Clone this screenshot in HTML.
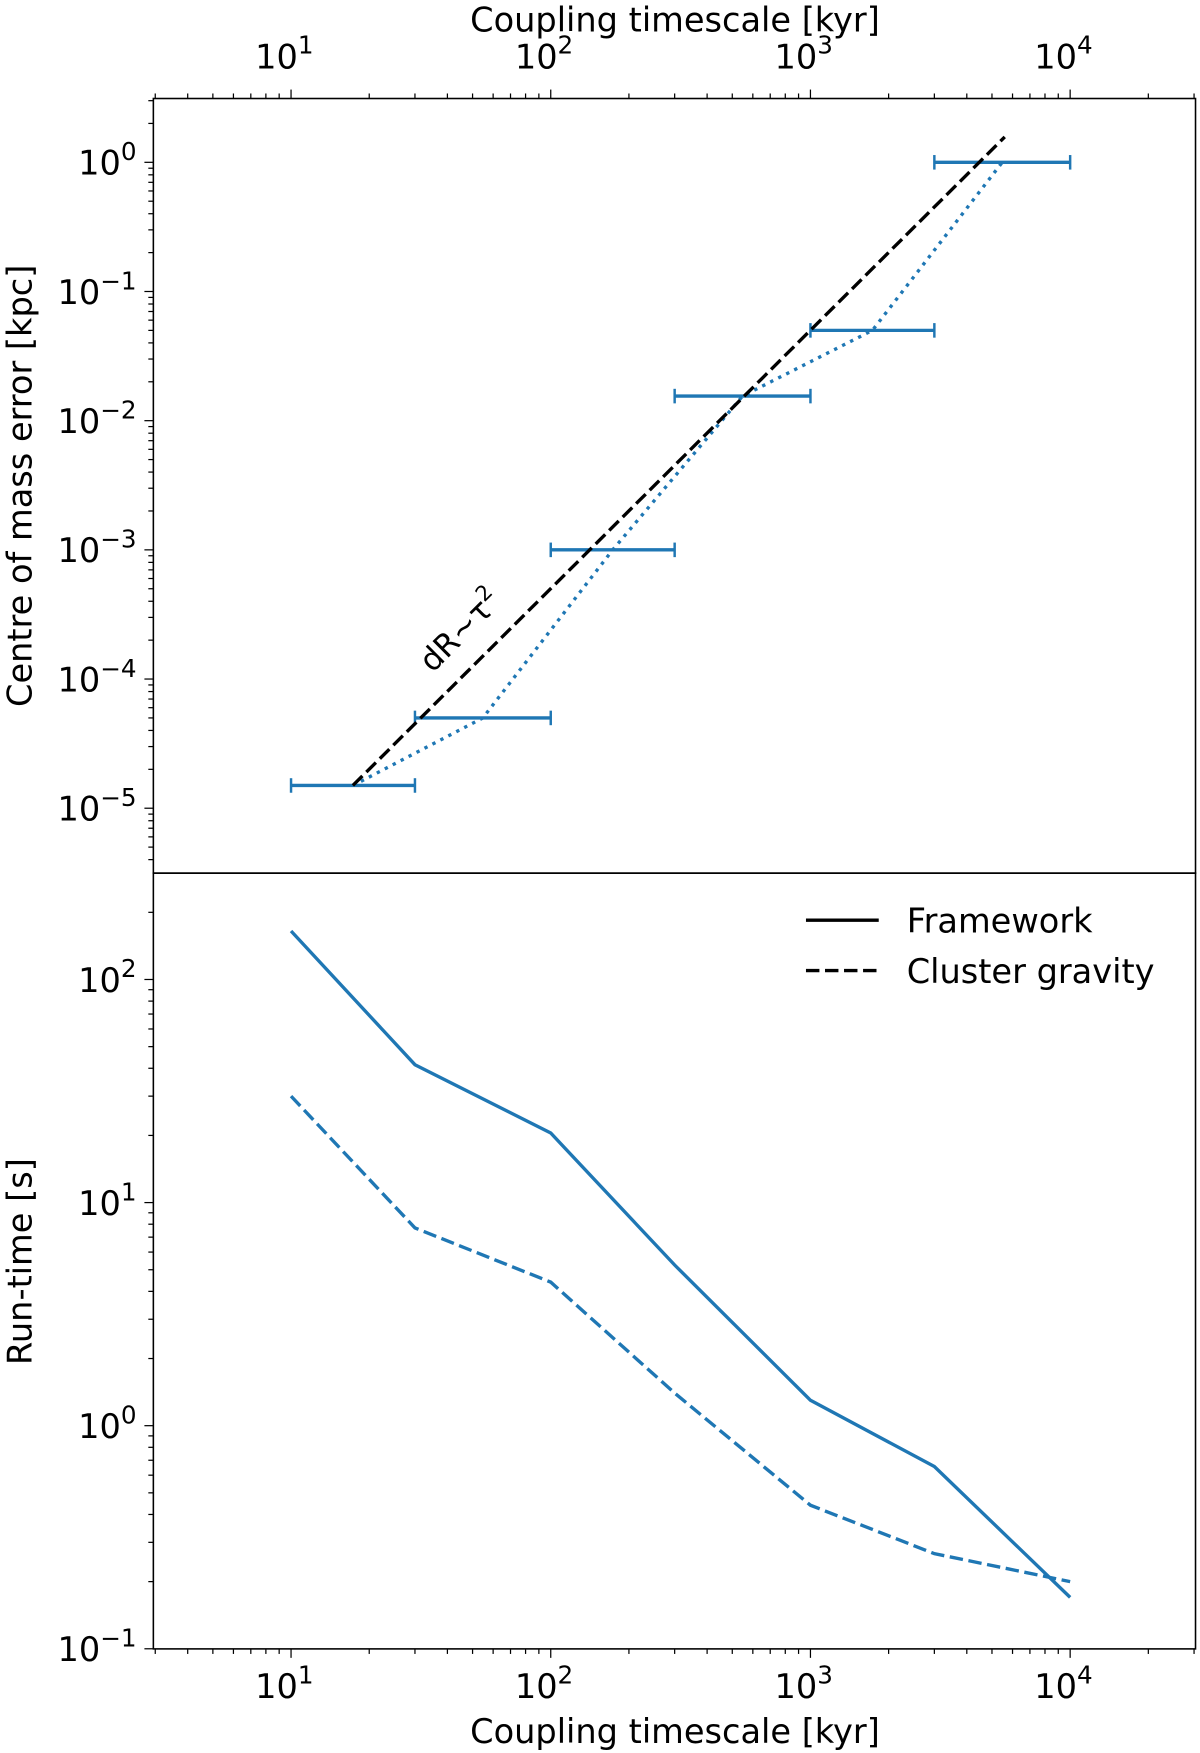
<!DOCTYPE html>
<html><head><meta charset="utf-8"><style>
html,body{margin:0;padding:0;background:#fff;}
svg{display:block;font-family:"DejaVu Sans","Liberation Sans",sans-serif;}
</style></head><body>
<svg id="chart" width="1200" height="1753" viewBox="0 0 1072 1566" preserveAspectRatio="none" xmlns="http://www.w3.org/2000/svg"></svg>
<script>
const xBins = [10, 30, 100, 300, 1000, 3000, 10000];
const comError = [1.5e-5, 5e-5, 1e-3, 0.0155, 0.05, 1.0];
const tauX = [10, 30, 100, 300, 1000, 3000, 10000];
const frameworkTime = [165, 41.5, 20.5, 5.25, 1.3, 0.656, 0.17];
const clusterTime = [30, 7.7, 4.4, 1.4, 0.44, 0.267, 0.2];
const fitX = [17.3, 5600];
const fitY0 = 1.5e-5;
const xTickLabels = ['1', '2', '3', '4'];
const topYTickLabels = ['0', '−1', '−2', '−3', '−4', '−5'];
const botYTickLabels = ['2', '1', '0', '−1'];

const NS = 'http://www.w3.org/2000/svg';
const svg = document.getElementById('chart');
const L = 137, R = 1068, T = 88, M = 780, B = 1473;
const X = v => 260 + (Math.log10(v) - 1) * 232;
const Y1 = v => 145 - Math.log10(v) * 115.4;
const Y2 = v => 875 - (Math.log10(v) - 2) * 199.3;
const BLUE = '#1f77b4';
const FS = 30;

function mk(tag, attrs, parent) {
  const e = document.createElementNS(NS, tag);
  for (const k in attrs) e.setAttribute(k, attrs[k]);
  (parent || svg).appendChild(e);
  return e;
}
function pow(x, y, exp, anchor) {
  const t = mk('text', {x: x, y: y, 'font-size': FS, 'text-anchor': anchor, fill: '#000'});
  t.appendChild(document.createTextNode('10'));
  const s = mk('tspan', {dy: -13, 'font-size': 22}, t);
  s.textContent = exp;
  return t;
}

const f1 = mk('rect', {x: L, y: T, width: R - L, height: M - T, fill: 'none', stroke: '#000', 'stroke-width': 1.4});


const f2 = mk('rect', {x: L, y: M, width: R - L, height: B - M, fill: 'none', stroke: '#000', 'stroke-width': 1.4});



for (let d = 0; d <= 4; d++) {
  for (let m = 1; m <= 9; m++) {
    const v = m * Math.pow(10, d);
    const x = X(v);
    if (x < L || x > R) continue;
    const len = m === 1 ? 8 : 4.5;
    const tt = mk('line', {x1: x, x2: x, y1: T, y2: T - len, stroke: '#000', 'stroke-width': 1.1});
    
    
    const bt = mk('line', {x1: x, x2: x, y1: B, y2: B + len, stroke: '#000', 'stroke-width': 1.1});
    
    
  }
}
xTickLabels.forEach((lab, i) => {
  const x = X(Math.pow(10, i + 1));
  const a = pow(x - 6, 61, lab, 'middle');
  
  
  const b = pow(x - 6, 1517, lab, 'middle');
  
  
});

for (let d = -6; d <= 0; d++) {
  for (let m = 1; m <= 9; m++) {
    const v = m * Math.pow(10, d);
    const y = Y1(v);
    if (y < T || y > M) continue;
    const len = m === 1 ? 8 : 4.5;
    const t = mk('line', {x1: L, x2: L - len, y1: y, y2: y, stroke: '#000', 'stroke-width': 1.1});
    
    
  }
}
topYTickLabels.forEach((lab, i) => {
  const t = pow(122, Y1(Math.pow(10, -i)) + 11, lab, 'end');
  
  
});
for (let d = -1; d <= 2; d++) {
  for (let m = 1; m <= 9; m++) {
    const v = m * Math.pow(10, d);
    const y = Y2(v);
    if (y < M || y > B + 0.5) continue;
    const len = m === 1 ? 8 : 4.5;
    const t = mk('line', {x1: L, x2: L - len, y1: y, y2: y, stroke: '#000', 'stroke-width': 1.1});
    
    
  }
}
botYTickLabels.forEach((lab, i) => {
  const t = pow(122, Y2(Math.pow(10, 2 - i)) + 11, lab, 'end');
  
  
});

const xt1 = mk('text', {x: 603, y: 28, 'font-size': FS, 'text-anchor': 'middle'});
xt1.textContent = 'Coupling timescale [kyr]';


const xt2 = mk('text', {x: 603, y: 1557, 'font-size': FS, 'text-anchor': 'middle'});
xt2.textContent = 'Coupling timescale [kyr]';


const yt1 = mk('text', {x: 0, y: 0, 'font-size': FS, 'text-anchor': 'middle', transform: 'translate(28,434) rotate(-90)'});
yt1.textContent = 'Centre of mass error [kpc]';


const yt2 = mk('text', {x: 0, y: 0, 'font-size': FS, 'text-anchor': 'middle', transform: 'translate(28,1127) rotate(-90)'});
yt2.textContent = 'Run-time [s]';



const mids = comError.map((v, i) => [X(Math.sqrt(xBins[i] * xBins[i + 1])), Y1(v)]);
const dl = mk('polyline', {points: mids.map(p => p.join(',')).join(' '), fill: 'none', stroke: BLUE, 'stroke-width': 3, 'stroke-dasharray': '3 5'});


comError.forEach((v, i) => {
  const g = mk('g', {});
  
  
  const x1 = X(xBins[i]), x2 = X(xBins[i + 1]), y = Y1(v);
  mk('line', {x1: x1, x2: x2, y1: y, y2: y, stroke: BLUE, 'stroke-width': 3}, g);
  mk('line', {x1: x1, x2: x1, y1: y - 6.5, y2: y + 6.5, stroke: BLUE, 'stroke-width': 2.2}, g);
  mk('line', {x1: x2, x2: x2, y1: y - 6.5, y2: y + 6.5, stroke: BLUE, 'stroke-width': 2.2}, g);
});
const fy = x => fitY0 * Math.pow(x / fitX[0], 2);
const fl = mk('line', {x1: X(fitX[0]), y1: Y1(fy(fitX[0])), x2: X(fitX[1]), y2: Y1(fy(fitX[1])), stroke: '#000', 'stroke-width': 3, 'stroke-dasharray': '12 5'});


const ft = mk('text', {x: 0, y: 0, 'font-size': 28, 'text-anchor': 'middle', transform: 'translate(418,570) rotate(-45)'});
ft.textContent = 'dR~τ';
const fts = mk('tspan', {dy: -12, 'font-size': 19}, ft);
fts.textContent = '2';



const fw = mk('polyline', {points: tauX.map((x, i) => X(x) + ',' + Y2(frameworkTime[i])).join(' '), fill: 'none', stroke: BLUE, 'stroke-width': 3});


const cg = mk('polyline', {points: tauX.map((x, i) => X(x) + ',' + Y2(clusterTime[i])).join(' '), fill: 'none', stroke: BLUE, 'stroke-width': 3, 'stroke-dasharray': '12 5'});



const lg1 = mk('g', {});


mk('line', {x1: 720, x2: 785, y1: 822, y2: 822, stroke: '#000', 'stroke-width': 3}, lg1);
const lt1 = mk('text', {x: 810, y: 833, 'font-size': FS}, lg1);
lt1.textContent = 'Framework';
const lg2 = mk('g', {});


mk('line', {x1: 720, x2: 785, y1: 867, y2: 867, stroke: '#000', 'stroke-width': 3, 'stroke-dasharray': '12 5'}, lg2);
const lt2 = mk('text', {x: 810, y: 878, 'font-size': FS}, lg2);
lt2.textContent = 'Cluster gravity';
</script>
</body></html>
